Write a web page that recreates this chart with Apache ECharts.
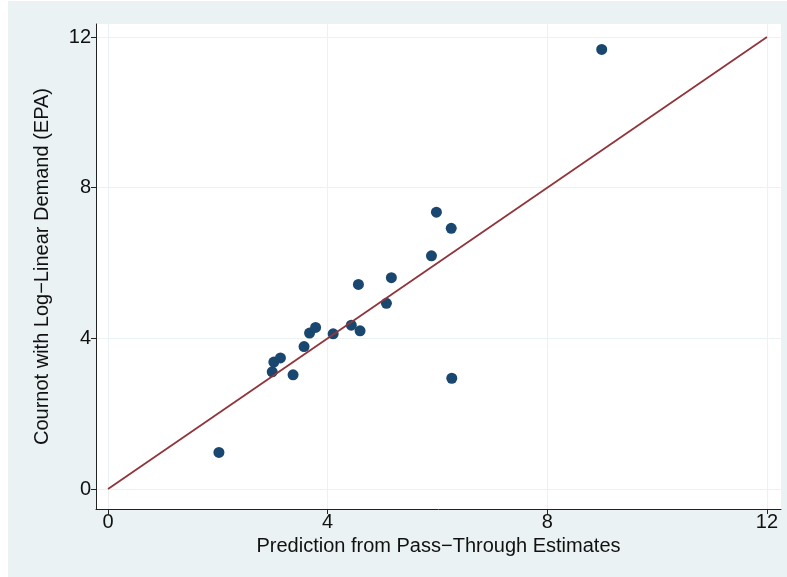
<!DOCTYPE html>
<html>
<head>
<meta charset="utf-8">
<script src="https://cdn.jsdelivr.net/npm/echarts@6/dist/echarts.min.js"></script>
<style>
    html, body { margin: 0; padding: 0; background: #ffffff; }
    #chart { width: 787px; height: 577px; }
</style>
</head>
<body>
<div id="chart"></div>
<script>
// Prediction from pass-through (x) vs Cournot log-linear (y)
let pass_through = [2.02, 2.99, 3.02, 3.14, 3.37, 3.57, 3.67, 3.78, 4.10, 4.43, 4.59, 4.56, 5.07, 5.16, 5.89, 5.98, 6.25, 6.26, 8.99];
let cournot_loglin = [0.97, 3.11, 3.37, 3.48, 3.03, 3.78, 4.14, 4.29, 4.12, 4.35, 4.20, 5.43, 4.93, 5.61, 6.19, 7.35, 6.92, 2.94, 11.67];
let diagonal_x = [0, 12];
let diagonal_y = [0, 12];
let tick_values = [0, 4, 8, 12];

const BG_COLOR = '#EAF2F3';
const FONT = 'Liberation Sans';

let chart = echarts.init(document.getElementById('chart'));

let axis_common = {
    type: 'value',
    axisLine: {show: true, onZero: false, lineStyle: {color: '#222', width: 1}},
    axisTick: {show: true, length: 5, customValues: tick_values, lineStyle: {color: '#222'}},
    axisLabel: {customValues: tick_values, color: '#111', fontSize: 20, fontFamily: FONT},
    splitLine: {show: true, lineStyle: {color: BG_COLOR, width: 1}},
    nameLocation: 'middle',
    nameTextStyle: {color: '#111', fontSize: 20, fontFamily: FONT}
};

let options = {
    animation: false,
    graphic: [{
        type: 'rect',
        z: -10,
        silent: true,
        shape: {x: 8, y: 1, width: 787, height: 577},
        style: {fill: BG_COLOR}
    }],
    grid: {
        left: 96,
        top: 24,
        right: 6,
        bottom: 68,
        show: true,
        backgroundColor: '#ffffff',
        borderWidth: 0
    },
    xAxis: Object.assign({}, axis_common, {
        min: -0.2185,
        max: 12.255,
        name: 'Prediction from Pass\u2212Through Estimates',
        nameGap: 24,
        axisLabel: Object.assign({}, axis_common.axisLabel, {margin: 3})
    }),
    yAxis: Object.assign({}, axis_common, {
        min: -0.531,
        max: 12.345,
        name: 'Cournot with Log\u2212Linear Demand (EPA)',
        nameGap: 44,
        axisLabel: Object.assign({}, axis_common.axisLabel, {margin: 5})
    }),
    series: [
        {
            type: 'line',
            data: diagonal_x.map((x, i) => [x, diagonal_y[i]]),
            symbol: 'none',
            lineStyle: {color: '#90353B', width: 1.8},
            z: 3
        },
        {
            type: 'scatter',
            data: pass_through.map((x, i) => [x, cournot_loglin[i]]),
            symbolSize: 11,
            itemStyle: {color: '#1A476F', opacity: 1},
            z: 2
        }
    ]
};

chart.setOption(options);
</script>
</body>
</html>
